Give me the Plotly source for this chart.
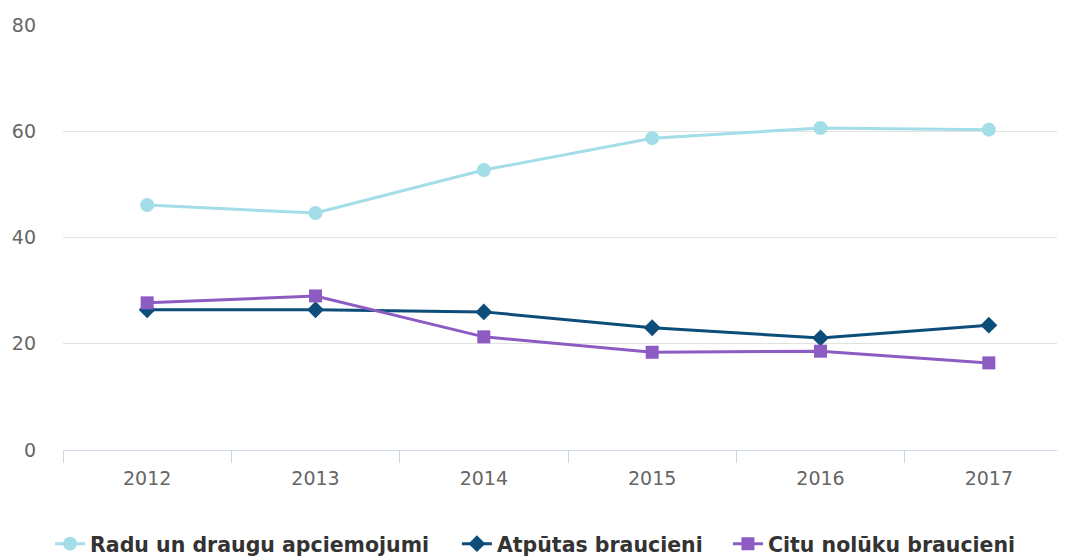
import plotly.graph_objects as go

years = ["2012", "2013", "2014", "2015", "2016", "2017"]
radu = [46.1, 44.6, 52.7, 58.7, 60.6, 60.3]
atputas = [26.4, 26.4, 26.0, 23.0, 21.1, 23.5]
citu = [27.7, 29.0, 21.3, 18.4, 18.6, 16.4]
names = ["Radu un draugu apciemojumi", "Atpūtas braucieni", "Citu nolūku braucieni"]
y_ticks = [0, 20, 40, 60, 80]

xpos = list(range(len(years)))

fig = go.Figure()
fig.add_trace(go.Scatter(x=xpos, y=radu, name=names[0], mode="lines+markers", legend="legend",
                         line=dict(color="#a3dde8", width=3),
                         marker=dict(symbol="circle", size=14, color="#a3dde8")))
fig.add_trace(go.Scatter(x=xpos, y=atputas, name=names[1], mode="lines+markers", legend="legend2",
                         line=dict(color="#0c4d7a", width=3),
                         marker=dict(symbol="diamond", size=13, color="#0c4d7a")))
fig.add_trace(go.Scatter(x=xpos, y=citu, name=names[2], mode="lines+markers", legend="legend3",
                         line=dict(color="#8c5cc2", width=3),
                         marker=dict(symbol="square", size=13, color="#8c5cc2")))

legend_font = dict(size=20.5, color="#333333", family="DejaVu Sans, sans-serif", weight="bold")


def leg(xfrac):
    return dict(orientation="h", xref="container", x=xfrac, xanchor="left",
                yref="container", y=0.024, yanchor="middle",
                font=legend_font, itemwidth=30, bgcolor="rgba(0,0,0,0)")


fig.update_layout(
    width=1065, height=549,
    margin=dict(l=55, r=0, t=17, b=107, autoexpand=False),
    paper_bgcolor="white", plot_bgcolor="white",
    font=dict(family="DejaVu Sans, sans-serif", color="#666666", size=19),
    showlegend=True,
    legend=leg(0.0395),
    legend2=leg(0.4215),
    legend3=leg(0.676),
    hovermode=False,
)
fig.update_xaxes(
    range=[-0.5, 5.5], tickmode="array", tickvals=xpos, ticktext=years,
    showgrid=False, zeroline=False, showline=True, linecolor="#ccd6eb", linewidth=1,
    ticks="", ticklabelstandoff=11, automargin=False,
    minor=dict(tickmode="linear", tick0=-0.5, dtick=1, ticks="outside", ticklen=12,
               tickcolor="#ccd6eb", showgrid=False),
)
fig.update_yaxes(
    range=[0, 80], tickmode="array", tickvals=y_ticks,
    showgrid=True, gridcolor="#e2e2e2", gridwidth=1, zeroline=False, showline=False,
    ticklabelstandoff=26, automargin=False,
)
fig.write_html("out.html")
